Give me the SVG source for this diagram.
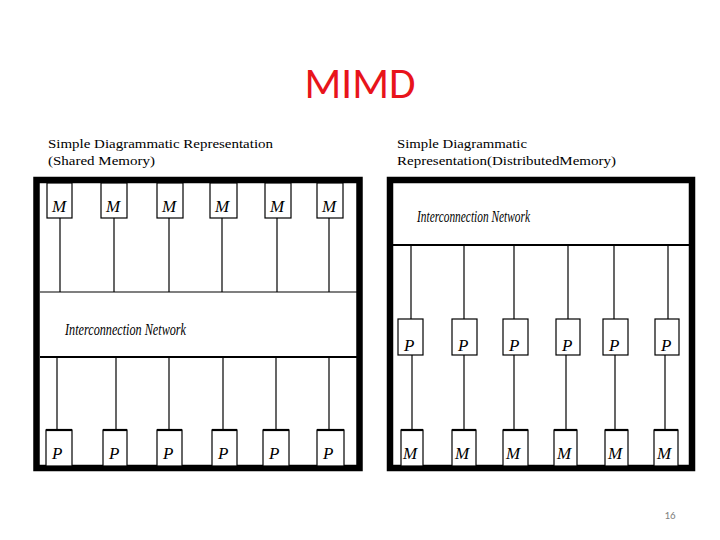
<svg xmlns="http://www.w3.org/2000/svg" width="720" height="540" viewBox="0 0 720 540">
<style>
.frame{fill:none;stroke:#000;stroke-width:6.5}
.box{fill:#fff;stroke:#000;stroke-width:1.2}
.boxtop{stroke:#000;stroke-width:2.2}
.ln{stroke:#000;stroke-width:1.2;fill:none}
.band{stroke:#000;stroke-width:2.2}
.lbl{font-family:"Liberation Serif",serif;font-style:italic;font-size:17px;fill:#000}
.net{font-family:"Liberation Serif",serif;font-style:italic;font-size:17px;fill:#000}
.hdr{font-family:"Liberation Serif",serif;font-size:13.5px;fill:#000}
</style>
<rect width="720" height="540" fill="#fff"/>
<text x="360" y="98" text-anchor="middle" font-family="Carlito,'Liberation Sans',sans-serif" font-size="43" fill="#e8141b">MIMD</text>
<g id="headers">
<text class="hdr" x="48" y="148" textLength="225" lengthAdjust="spacingAndGlyphs">Simple Diagrammatic Representation</text>
<text class="hdr" x="48" y="165" textLength="107" lengthAdjust="spacingAndGlyphs">(Shared Memory)</text>
<text class="hdr" x="397" y="148" textLength="130" lengthAdjust="spacingAndGlyphs">Simple Diagrammatic</text>
<text class="hdr" x="397" y="165" textLength="219" lengthAdjust="spacingAndGlyphs">Representation(DistributedMemory)</text>
</g>
<text x="670" y="519" text-anchor="middle" font-family="Carlito,'Liberation Sans',sans-serif" font-size="11" fill="#7f7f7f">16</text>

<!-- Left panel: shared memory -->
<g id="shared-frame"><rect class="frame" x="36.5" y="180" width="323" height="288"/></g>
<g id="shared-network">
<line class="ln" x1="40" y1="292" x2="357" y2="292"/>
<line class="band" x1="40" y1="357" x2="357" y2="357"/>
<text class="net" x="65" y="335" textLength="121" lengthAdjust="spacingAndGlyphs">Interconnection Network</text>
</g>
<g id="shared-connectors">
<line class="ln" x1="60" y1="218" x2="60" y2="292"/>
<line class="ln" x1="114" y1="218" x2="114" y2="292"/>
<line class="ln" x1="169" y1="218" x2="169" y2="292"/>
<line class="ln" x1="222" y1="218" x2="222" y2="292"/>
<line class="ln" x1="277" y1="218" x2="277" y2="292"/>
<line class="ln" x1="329" y1="218" x2="329" y2="292"/>
<line class="ln" x1="57" y1="357" x2="57" y2="430"/>
<line class="ln" x1="116" y1="357" x2="116" y2="430"/>
<line class="ln" x1="169" y1="357" x2="169" y2="430"/>
<line class="ln" x1="223" y1="357" x2="223" y2="430"/>
<line class="ln" x1="276" y1="357" x2="276" y2="430"/>
<line class="ln" x1="329" y1="357" x2="329" y2="430"/>
</g>
<g id="sm-M1"><rect class="box" x="47" y="183" width="25" height="35"/><text class="lbl" x="52" y="212">M</text></g>
<g id="sm-M2"><rect class="box" x="101" y="183" width="26" height="35"/><text class="lbl" x="106" y="212">M</text></g>
<g id="sm-M3"><rect class="box" x="157" y="183" width="26" height="35"/><text class="lbl" x="162" y="212">M</text></g>
<g id="sm-M4"><rect class="box" x="210" y="183" width="27" height="35"/><text class="lbl" x="215" y="212">M</text></g>
<g id="sm-M5"><rect class="box" x="265" y="183" width="26" height="35"/><text class="lbl" x="270" y="212">M</text></g>
<g id="sm-M6"><rect class="box" x="317" y="183" width="26" height="35"/><text class="lbl" x="322" y="212">M</text></g>
<g id="sm-P1"><rect class="box" x="46" y="430" width="26" height="36"/><line class="boxtop" x1="46" y1="430" x2="72" y2="430"/><text class="lbl" x="52" y="459">P</text></g>
<g id="sm-P2"><rect class="box" x="103" y="430" width="24" height="36"/><line class="boxtop" x1="103" y1="430" x2="127" y2="430"/><text class="lbl" x="109" y="459">P</text></g>
<g id="sm-P3"><rect class="box" x="157" y="430" width="25" height="36"/><line class="boxtop" x1="157" y1="430" x2="182" y2="430"/><text class="lbl" x="163" y="459">P</text></g>
<g id="sm-P4"><rect class="box" x="212" y="430" width="25" height="36"/><line class="boxtop" x1="212" y1="430" x2="237" y2="430"/><text class="lbl" x="218" y="459">P</text></g>
<g id="sm-P5"><rect class="box" x="263" y="430" width="26" height="36"/><line class="boxtop" x1="263" y1="430" x2="289" y2="430"/><text class="lbl" x="269" y="459">P</text></g>
<g id="sm-P6"><rect class="box" x="317" y="430" width="27" height="36"/><line class="boxtop" x1="317" y1="430" x2="344" y2="430"/><text class="lbl" x="323" y="459">P</text></g>

<!-- Right panel: distributed memory -->
<g id="dist-frame"><rect class="frame" x="390" y="180" width="302" height="288"/></g>
<g id="dist-network">
<line class="band" x1="393" y1="245" x2="689" y2="245"/>
<text class="net" x="417" y="222" textLength="113" lengthAdjust="spacingAndGlyphs">Interconnection Network</text>
</g>
<g id="dist-connectors">
<line class="ln" x1="411" y1="245" x2="411" y2="319"/>
<line class="ln" x1="464" y1="245" x2="464" y2="319"/>
<line class="ln" x1="514" y1="245" x2="514" y2="319"/>
<line class="ln" x1="568" y1="245" x2="568" y2="319"/>
<line class="ln" x1="614" y1="245" x2="614" y2="319"/>
<line class="ln" x1="668" y1="245" x2="668" y2="319"/>
<line class="ln" x1="412" y1="355" x2="412" y2="430"/>
<line class="ln" x1="464" y1="355" x2="464" y2="430"/>
<line class="ln" x1="514" y1="355" x2="514" y2="430"/>
<line class="ln" x1="566" y1="355" x2="566" y2="430"/>
<line class="ln" x1="615" y1="355" x2="615" y2="430"/>
<line class="ln" x1="665" y1="355" x2="665" y2="430"/>
</g>
<g id="dm-P1"><rect class="box" x="398" y="319" width="25" height="36"/><text class="lbl" x="404" y="351">P</text></g>
<g id="dm-P2"><rect class="box" x="452" y="319" width="25" height="36"/><text class="lbl" x="458" y="351">P</text></g>
<g id="dm-P3"><rect class="box" x="503" y="319" width="25" height="36"/><text class="lbl" x="509" y="351">P</text></g>
<g id="dm-P4"><rect class="box" x="556" y="319" width="24" height="36"/><text class="lbl" x="562" y="351">P</text></g>
<g id="dm-P5"><rect class="box" x="603" y="319" width="25" height="36"/><text class="lbl" x="609" y="351">P</text></g>
<g id="dm-P6"><rect class="box" x="655" y="319" width="24" height="36"/><text class="lbl" x="661" y="351">P</text></g>
<g id="dm-M1"><rect class="box" x="401" y="430" width="22" height="36"/><line class="boxtop" x1="401" y1="430" x2="423" y2="430"/><text class="lbl" x="403" y="459">M</text></g>
<g id="dm-M2"><rect class="box" x="452" y="430" width="24" height="36"/><line class="boxtop" x1="452" y1="430" x2="476" y2="430"/><text class="lbl" x="455" y="459">M</text></g>
<g id="dm-M3"><rect class="box" x="503" y="430" width="25" height="36"/><line class="boxtop" x1="503" y1="430" x2="528" y2="430"/><text class="lbl" x="506" y="459">M</text></g>
<g id="dm-M4"><rect class="box" x="554" y="430" width="23" height="36"/><line class="boxtop" x1="554" y1="430" x2="577" y2="430"/><text class="lbl" x="557" y="459">M</text></g>
<g id="dm-M5"><rect class="box" x="605" y="430" width="23" height="36"/><line class="boxtop" x1="605" y1="430" x2="628" y2="430"/><text class="lbl" x="608" y="459">M</text></g>
<g id="dm-M6"><rect class="box" x="654" y="430" width="24" height="36"/><line class="boxtop" x1="654" y1="430" x2="678" y2="430"/><text class="lbl" x="657" y="459">M</text></g>
</svg>
